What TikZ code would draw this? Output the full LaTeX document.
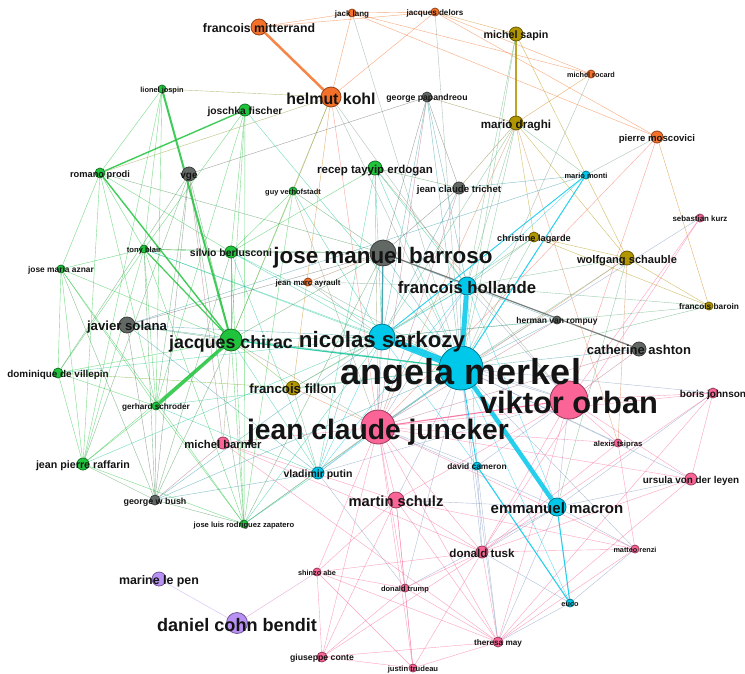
\documentclass[tikz,border=0pt]{standalone}
\usepackage{fontspec}
\setmainfont{Liberation Sans}
\pgfdeclarelayer{bg}
\pgfdeclarelayer{background}
\pgfsetlayers{bg,background,main}
\definecolor{gOr}{RGB}{245,112,40}
\definecolor{gGr}{RGB}{32,196,60}
\definecolor{gGy}{RGB}{98,104,100}
\definecolor{gOl}{RGB}{178,150,0}
\definecolor{gCy}{RGB}{0,200,235}
\definecolor{gPk}{RGB}{250,100,150}
\definecolor{gPu}{RGB}{185,145,245}
\tikzset{
  dot/.style={circle,inner sep=0pt,line width=0.8pt},
  lbl/.style={anchor=base,inner sep=0pt,text=black!92},
  edge/.style={line width=0.4pt,opacity=0.6},
}
\newcommand\pn[5]{\colorlet{col#1}{#5}\node[dot,minimum size={2*#4pt},fill=#5,draw=#5!60!black] (#1) at (#2,#3) {};}
\newcommand\lab[3]{\node[lbl,font=\bfseries\fontsize{#2}{#2}\selectfont,yshift={-0.45*#2pt}] (#1l) at (#1) {#3};}
\begin{document}
\begin{tikzpicture}[x=1pt,y=-1pt]
\begin{pgfonlayer}{bg}
\fill[white] (0,0) rectangle (745,673);
\end{pgfonlayer}
\useasboundingbox (0,0) rectangle (745,673);
% nodes
\pn{mit}{259}{27}{8}{gOr}
\pn{jlang}{352}{13}{4}{gOr}
\pn{delors}{435}{12}{4}{gOr}
\pn{sapin}{516}{34}{7}{gOl}
\pn{rocard}{591}{74}{4}{gOr}
\pn{kohl}{331}{97}{10}{gOr}
\pn{jospin}{162}{89}{4}{gGr}
\pn{fischer}{245}{110}{6}{gGr}
\pn{papa}{427}{97}{5}{gGy}
\pn{draghi}{516}{123}{7}{gOl}
\pn{mosco}{657}{137}{6}{gOr}
\pn{prodi}{100}{173}{5}{gGr}
\pn{vge}{189}{174}{7}{gGy}
\pn{guy}{293}{191}{4}{gGr}
\pn{erdogan}{375}{168}{7}{gGr}
\pn{monti}{586}{175}{4}{gCy}
\pn{trichet}{459}{188}{6}{gGy}
\pn{kurz}{700}{218}{4}{gPk}
\pn{blair}{144}{249}{4}{gGr}
\pn{berlu}{231}{252}{6}{gGr}
\pn{aznar}{61}{269}{4}{gGr}
\pn{barroso}{383}{253}{13}{gGy}
\pn{lagarde}{534}{237}{5}{gOl}
\pn{schauble}{627}{258}{7}{gOl}
\pn{ayrault}{308}{282}{4}{gOr}
\pn{hollande}{467}{286}{9}{gCy}
\pn{baroin}{709}{306}{4}{gOl}
\pn{rompuy}{557}{320}{4}{gGy}
\pn{solana}{127}{325}{8}{gGy}
\pn{chirac}{231}{340}{11}{gGr}
\pn{sarkozy}{382}{337}{13}{gCy}
\pn{ashton}{639}{349}{7}{gGy}
\pn{merkel}{461}{368}{22}{gCy}
\pn{villepin}{58}{373}{5}{gGr}
\pn{fillon}{293}{388}{7}{gOl}
\pn{schroder}{156}{406}{4}{gGr}
\pn{orban}{569}{400}{19}{gPk}
\pn{johnson}{713}{393}{5}{gPk}
\pn{juncker}{378}{427}{17}{gPk}
\pn{barnier}{223}{443}{6}{gPk}
\pn{tsipras}{618}{443}{4}{gPk}
\pn{raffarin}{83}{464}{6}{gGr}
\pn{putin}{318}{473}{6}{gCy}
\pn{cameron}{477}{466}{4}{gCy}
\pn{ursula}{691}{479}{6}{gPk}
\pn{bush}{155}{500}{5}{gGy}
\pn{schulz}{396}{500}{8}{gPk}
\pn{macron}{557}{507}{9}{gCy}
\pn{zapatero}{244}{524}{4}{gGr}
\pn{renzi}{635}{549}{4}{gPk}
\pn{tusk}{482}{552}{6}{gPk}
\pn{lepen}{159}{579}{7}{gPu}
\pn{abe}{317}{572}{4}{gPk}
\pn{trump}{405}{588}{4}{gPk}
\pn{euco}{570}{603}{4}{gCy}
\pn{bendit}{237}{623}{10.5}{gPu}
\pn{conte}{322}{657}{5}{gPk}
\pn{may}{498}{642}{5}{gPk}
\pn{trudeau}{413}{668}{4}{gPk}
% edges
\begin{pgfonlayer}{background}
\foreach \a/\b in {
 mit/jlang, mit/delors, jlang/delors, jlang/kohl, jlang/rocard, jlang/mosco, jlang/merkel,
 delors/kohl, delors/rocard, delors/mosco, delors/merkel, delors/sapin,
 kohl/merkel, kohl/juncker, kohl/guy, kohl/fillon, kohl/chirac, kohl/hollande,
 rocard/draghi, rocard/merkel, mosco/juncker, mosco/orban, mosco/baroin, mosco/monti,
 ayrault/merkel, ayrault/hollande, ayrault/barroso, ayrault/sarkozy,
 jospin/prodi, jospin/kohl, jospin/blair, jospin/raffarin, jospin/schroder,
 fischer/chirac, fischer/schroder, fischer/blair, fischer/merkel, fischer/zapatero, fischer/berlu,
 prodi/kohl, prodi/blair, prodi/aznar, prodi/berlu, prodi/raffarin, prodi/barroso, prodi/schroder,
 vge/papa, vge/chirac, vge/schroder, vge/raffarin, vge/zapatero, vge/bush, vge/barnier, vge/villepin,
 guy/chirac, guy/barroso, guy/sarkozy, guy/zapatero, guy/juncker, guy/berlu,
 erdogan/merkel, erdogan/sarkozy, erdogan/putin, erdogan/juncker, erdogan/orban, erdogan/hollande, erdogan/berlu, erdogan/trichet,
 blair/aznar, blair/berlu, blair/schroder, blair/bush, blair/raffarin, blair/villepin, blair/zapatero, blair/merkel, blair/barroso, blair/sarkozy,
 berlu/chirac, berlu/barroso, berlu/sarkozy, berlu/merkel, berlu/zapatero, berlu/bush, berlu/putin,
 aznar/chirac, aznar/schroder, aznar/villepin, aznar/raffarin, aznar/bush, aznar/zapatero,
 chirac/villepin, chirac/raffarin, chirac/bush, chirac/zapatero, chirac/sarkozy, chirac/barroso, chirac/putin, chirac/juncker, chirac/fillon, chirac/solana, chirac/barnier,
 villepin/raffarin, villepin/schroder, villepin/sarkozy, villepin/fillon,
 schroder/bush, schroder/raffarin, schroder/zapatero, schroder/merkel, schroder/putin,
 raffarin/sarkozy, raffarin/bush, raffarin/zapatero,
 zapatero/sarkozy, zapatero/merkel, zapatero/putin, zapatero/bush, zapatero/juncker, zapatero/barroso,
 papa/sarkozy, papa/merkel, papa/barroso, papa/juncker, papa/trichet, papa/draghi, papa/hollande,
 trichet/barroso, trichet/merkel, trichet/sarkozy, trichet/draghi, trichet/juncker, trichet/monti,
 barroso/merkel, barroso/hollande, barroso/juncker, barroso/putin,
 solana/bush, solana/sarkozy, solana/barroso, solana/putin, solana/merkel, solana/monti,
 rompuy/merkel, rompuy/sarkozy, rompuy/juncker, rompuy/hollande,
 ashton/merkel, ashton/juncker, ashton/orban,
 bush/putin, bush/merkel, bush/sarkozy, bush/barnier,
 sapin/schauble, sapin/hollande, sapin/merkel,
 draghi/merkel, draghi/juncker, draghi/monti, draghi/schauble, draghi/lagarde, draghi/hollande, draghi/sarkozy, draghi/tsipras,
 lagarde/schauble, lagarde/merkel, lagarde/sarkozy, lagarde/baroin, lagarde/hollande,
 schauble/baroin, schauble/merkel, schauble/tsipras, schauble/hollande, schauble/juncker, schauble/macron,
 baroin/merkel, baroin/sarkozy, baroin/hollande,
 fillon/sarkozy, fillon/merkel, fillon/hollande, fillon/juncker, fillon/putin,
 monti/hollande,
 merkel/juncker, merkel/orban, merkel/putin, merkel/tusk, merkel/euco, merkel/tsipras, merkel/may, merkel/trump, merkel/schulz, merkel/johnson, merkel/ursula, merkel/kurz, merkel/renzi,
 sarkozy/hollande, sarkozy/putin, sarkozy/juncker, sarkozy/cameron, sarkozy/orban,
 hollande/macron, hollande/putin, hollande/juncker, hollande/orban, hollande/cameron,
 macron/tusk, macron/juncker, macron/may, macron/renzi, macron/trump, macron/orban, macron/schulz, macron/ursula, macron/johnson,
 cameron/juncker, cameron/tusk, cameron/may, cameron/orban,
 putin/juncker, putin/trump, putin/orban,
 juncker/schulz, juncker/tusk, juncker/barnier, juncker/may, juncker/tsipras, juncker/trump, juncker/conte, juncker/abe, juncker/trudeau, juncker/ursula, juncker/johnson, juncker/renzi,
 orban/tsipras, orban/johnson, orban/kurz, orban/ursula, orban/tusk, orban/schulz, orban/may,
 kurz/tusk, johnson/ursula, johnson/tusk, johnson/may,
 tsipras/renzi, tsipras/tusk, ursula/may, ursula/tusk,
 barnier/may, barnier/tusk, barnier/schulz,
 schulz/tusk, schulz/abe, schulz/trump, schulz/may, schulz/trudeau, schulz/conte, schulz/renzi,
 tusk/may, tusk/trump, tusk/abe, tusk/euco, tusk/conte, tusk/trudeau, tusk/renzi,
 abe/trump, abe/conte, abe/trudeau, abe/may, abe/bendit,
 trump/may, trump/conte, trump/trudeau, conte/may, conte/trudeau,
 renzi/may, renzi/euco, may/trudeau, may/euco,
 lepen/bendit}
 {\colorlet{ecol}{col\a!50!col\b}\draw[edge,ecol] (\a) -- (\b);}
\foreach \a/\b/\w in {
 merkel/sarkozy/7, merkel/hollande/5, merkel/macron/4.5, chirac/schroder/3.5,
 mit/kohl/2.5, jospin/chirac/2, fischer/prodi/1.4, prodi/chirac/1.4,
 blair/chirac/1.2, chirac/merkel/1.2, barroso/ashton/1.2, barroso/sarkozy/1.2,
 juncker/orban/1.1, macron/euco/1.1, cameron/euco/1.1, sapin/draghi/1.1,
 merkel/monti/1, sarkozy/monti/0.9, merkel/cameron/0.9}
 {\colorlet{ecol}{col\a!50!col\b}\draw[edge,ecol,opacity=0.85,line width=\w pt] (\a) -- (\b);}
\end{pgfonlayer}
% labels
\lab{mit}{12.3}{francois mitterrand}
\lab{jlang}{8}{jack lang}
\lab{delors}{8.1}{jacques delors}
\lab{sapin}{10.7}{michel sapin}
\lab{rocard}{7.3}{michel rocard}
\lab{kohl}{15.9}{helmut kohl}
\lab{jospin}{7.4}{lionel jospin}
\lab{fischer}{10.3}{joschka fischer}
\lab{papa}{8.7}{george papandreou}
\lab{draghi}{11.6}{mario draghi}
\lab{mosco}{9.6}{pierre moscovici}
\lab{prodi}{9.3}{romano prodi}
\lab{vge}{10}{vge}
\lab{guy}{7.4}{guy verhofstadt}
\lab{erdogan}{11.5}{recep tayyip erdogan}
\lab{monti}{7.5}{mario monti}
\lab{trichet}{9.6}{jean claude trichet}
\lab{kurz}{7.9}{sebastian kurz}
\lab{blair}{7.6}{tony blair}
\lab{berlu}{10.4}{silvio berlusconi}
\lab{aznar}{8.4}{jose maria aznar}
\lab{barroso}{22.4}{jose manuel barroso}
\lab{lagarde}{9.2}{christine lagarde}
\lab{schauble}{11.1}{wolfgang schauble}
\lab{ayrault}{7.9}{jean marc ayrault}
\lab{hollande}{16.7}{francois hollande}
\lab{baroin}{8.3}{francois baroin}
\lab{rompuy}{8.5}{herman van rompuy}
\lab{solana}{13.2}{javier solana}
\lab{chirac}{17.8}{jacques chirac}
\lab{sarkozy}{22.3}{nicolas sarkozy}
\lab{ashton}{13}{catherine ashton}
\lab{merkel}{36}{angela merkel}
\lab{villepin}{9.9}{dominique de villepin}
\lab{fillon}{13.3}{francois fillon}
\lab{schroder}{8.2}{gerhard schroder}
\lab{orban}{30.8}{viktor orban}
\lab{johnson}{10}{boris johnson}
\lab{juncker}{28.2}{jean claude juncker}
\lab{barnier}{11.3}{michel barnier}
\lab{tsipras}{7.7}{alexis tsipras}
\lab{raffarin}{10.7}{jean pierre raffarin}
\lab{putin}{10.5}{vladimir putin}
\lab{cameron}{8.4}{david cameron}
\lab{ursula}{9.9}{ursula von der leyen}
\lab{bush}{8.9}{george w bush}
\lab{schulz}{14.7}{martin schulz}
\lab{macron}{15}{emmanuel macron}
\lab{zapatero}{7.6}{jose luis rodriguez zapatero}
\lab{renzi}{7.3}{matteo renzi}
\lab{tusk}{11.6}{donald tusk}
\lab{lepen}{12.4}{marine le pen}
\lab{abe}{7.3}{shinzo abe}
\lab{trump}{7.5}{donald trump}
\lab{euco}{7.3}{euco}
\lab{bendit}{18.1}{daniel cohn bendit}
\lab{conte}{8.7}{giuseppe conte}
\lab{may}{8.2}{theresa may}
\lab{trudeau}{7.6}{justin trudeau}
\end{tikzpicture}
\end{document}
